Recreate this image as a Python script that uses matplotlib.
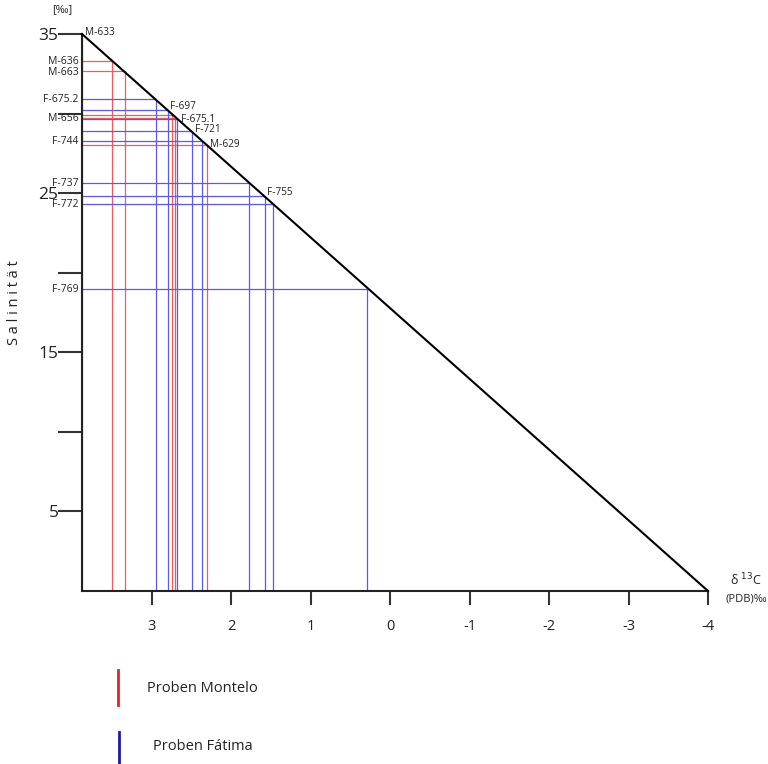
import matplotlib.pyplot as plt
from matplotlib.lines import Line2D

plt.rcParams['font.family'] = ['Open Sans', 'DejaVu Sans']

# delta 13C (PDB) and salinity
d13c_montelo = [3.88, 3.50, 3.34, 2.75, 2.71, 2.31]
sal_montelo = [35.0, 33.3, 32.65, 29.9, 29.75, 28.0]
labels_montelo = ['M-633', 'M-636', 'M-663', '', 'M-656', 'M-629']
side_montelo = ['diag', 'left', 'left', 'left', 'left', 'diag']

d13c_fatima = [2.95, 2.80, 2.68, 2.50, 2.37, 1.78, 1.58, 1.47, 0.29]
sal_fatima = [30.9, 30.2, 29.65, 28.9, 28.3, 25.65, 24.8, 24.3, 19.0]
labels_fatima = ['F-675.2', 'F-697', 'F-675.1', 'F-721', 'F-744',
                 'F-737', 'F-755', 'F-772', 'F-769']
side_fatima = ['left', 'diag', 'diag', 'diag', 'left',
               'left', 'diag', 'left', 'left']

diag_d13c = [3.88, -4.0]
diag_sal = [35.0, 0.0]

x_ticks = [3, 2, 1, 0, -1, -2, -3, -4]
x_ticklabels = ['3', '2', '1', '0', '-1', '-2', '-3', '-4']
y_ticks = [5, 10, 15, 20, 25, 30, 35]
y_ticklabels = ['5', '', '15', '', '25', '', '35']

# small label nudges (points) to keep crowded labels apart
nudge = {'F-697': (1.5, 2.5), 'F-675.1': (3, -0.5), 'F-755': (2, 3)}

W, H = 768, 764
fig = plt.figure(figsize=(W / 100, H / 100), dpi=100)
ax = fig.add_axes([82 / W, 1 - 591 / H, (708 - 82) / W, (591 - 34) / H])
ax.set_xlim(diag_d13c[0], diag_d13c[1])
ax.set_ylim(0, 35)
x_left = ax.get_xlim()[0]

red = '#f05a5a'
blue = '#5a5ae6'
txt = '#222222'


def draw_samples(xs, ys, labels, sides, color):
    for x, s, lab, side in zip(xs, ys, labels, sides):
        ax.vlines(x, 0, s, color=color, lw=0.9, zorder=2)
        ax.hlines(s, x_left, x, color=color, lw=0.9, zorder=2)
        if not lab:
            continue
        if side == 'left':
            ax.annotate(lab, xy=(x_left, s), xytext=(-2.5, -0.5),
                        textcoords='offset points', ha='right', va='center',
                        fontsize=7.5, color=txt, annotation_clip=False)
        else:
            ax.annotate(lab, xy=(x, s), xytext=nudge.get(lab, (2.5, 1)),
                        textcoords='offset points', ha='left', va='center',
                        fontsize=7.2, color=txt, annotation_clip=False)


draw_samples(d13c_montelo, sal_montelo, labels_montelo, side_montelo, red)
draw_samples(d13c_fatima, sal_fatima, labels_fatima, side_fatima, blue)

ax.plot(diag_d13c, diag_sal, color='black', lw=1.5, clip_on=False, zorder=3)

for sp in ['top', 'right']:
    ax.spines[sp].set_visible(False)
for sp in ['left', 'bottom']:
    ax.spines[sp].set_linewidth(1.5)
    ax.spines[sp].set_color('#222222')

ax.set_xticks(x_ticks)
ax.set_xticklabels(x_ticklabels)
ax.set_yticks(y_ticks)
ax.set_yticklabels(y_ticklabels)
ax.tick_params(axis='x', length=10, width=1.5, color='#333333', pad=10,
               labelsize=10.5, labelcolor=txt)
ax.tick_params(axis='y', length=17, width=1.5, color='#333333', pad=0,
               labelsize=12.5, labelcolor=txt)

# axis captions
fig.text(15 / W, 1 - 303 / H, 'S a l i n i t ä t', rotation=90,
         ha='center', va='center', fontsize=10.5, color=txt)
fig.text(62 / W, 1 - 10 / H, '[‰]', ha='center', va='center',
         fontsize=8, color=txt)
fig.text(746 / W, 1 - 580 / H, r'δ $^{13}$C', ha='center', va='center',
         fontsize=9, color=txt)
fig.text(767 / W, 1 - 599 / H, '(PDB)‰', ha='right', va='center',
         fontsize=8, color=txt)

# legend
fig.add_artist(Line2D([118 / W, 118 / W], [1 - 670 / H, 1 - 705 / H],
                      color='#e8202a', lw=2, transform=fig.transFigure))
fig.text(147 / W, 1 - 688 / H, 'Proben Montelo', ha='left', va='center',
         fontsize=10.5, color=txt)
fig.add_artist(Line2D([119 / W, 119 / W], [1 - 732 / H, 0],
                      color='#1c1ca8', lw=2, transform=fig.transFigure))
fig.text(153 / W, 1 - 747 / H, 'Proben Fátima', ha='left', va='center',
         fontsize=10.5, color=txt)

fig.savefig('out.png', dpi=100)
